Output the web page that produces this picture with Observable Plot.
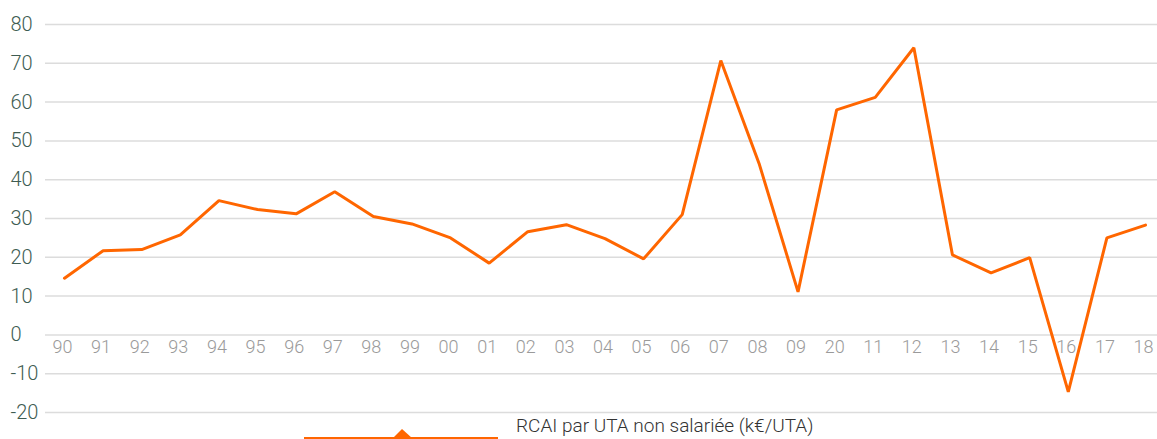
<!DOCTYPE html>
<html>
<head>
<meta charset="utf-8">
<script src="https://cdn.jsdelivr.net/npm/d3@7"></script>
<script src="https://cdn.jsdelivr.net/npm/@observablehq/plot@0.6"></script>
<style>
  body { margin: 0; background: #fff; font-family: Roboto, "Open Sans", sans-serif; }
  #wrap { position: relative; width: 1157px; height: 439px; overflow: hidden; }
  #legend { position: absolute; left: 0; top: 414px; height: 25px; width: 1157px; }
  #legend .txt { position: absolute; left: 516px; top: 0px; font-size: 19px; font-weight: 300; color: #333; white-space: nowrap; line-height: 24px; }
  #legend svg { position: absolute; left: 0; top: 0; }
</style>
</head>
<body>
<div id="wrap">
<div id="chart"></div>
<div id="legend"></div>
</div>
<script>
const years = ["90","91","92","93","94","95","96","97","98","99","00","01","02","03","04","05","06","07","08","09","20","11","12","13","14","15","16","17","18"];
const values = [14.6,21.7,22.0,25.8,34.6,32.3,31.2,36.9,30.5,28.6,25.0,18.5,26.6,28.4,24.8,19.6,31.0,70.7,43.9,11.1,58.0,61.2,74.0,20.6,16.0,19.9,-14.7,25.0,28.3];
const yTicks = [-20,-10,0,10,20,30,40,50,60,70,80];
const seriesName = "RCAI par UTA non salariée (k€/UTA)";

const data = years.map((y, i) => ({year: y, value: values[i], key: i}));

const plot = Plot.plot({
  width: 1157,
  height: 439,
  marginTop: 24,
  marginBottom: 27,
  marginLeft: 45,
  marginRight: 0,
  style: {fontFamily: "Roboto, 'Open Sans', sans-serif", background: "#fff"},
  x: {type: "point", domain: d3.range(years.length), range: [64, 1145], padding: 0, round: false, axis: null},
  y: {domain: [-20, 80], axis: null},
  marks: [
    Plot.ruleY(yTicks, {stroke: "#dcdcdc", strokeWidth: 1.5}),
    Plot.text(yTicks, {y: d => d, text: d => String(d), frameAnchor: "left", dx: -35, textAnchor: "start", fill: "#3e5c52", fontSize: 20, fontWeight: 300}),
    Plot.text(data, {x: "key", y: () => 0, text: "year", dy: 12, dx: -2, fill: "#9a9a9a", fontSize: 18, fontWeight: 300}),
    Plot.line(data, {x: "key", y: "value", stroke: "#ff6600", strokeWidth: 3, strokeLinejoin: "miter"})
  ]
});
document.getElementById("chart").appendChild(plot);

const legend = document.getElementById("legend");
legend.innerHTML = `<svg width="520" height="25"><line x1="304" x2="498" y1="24" y2="24" stroke="#ff6600" stroke-width="2"/><path d="M393,24 L402,15 L412,24 Z" fill="#ff6600"/></svg><div class="txt"></div>`;
legend.querySelector(".txt").textContent = seriesName;
</script>
</body>
</html>
